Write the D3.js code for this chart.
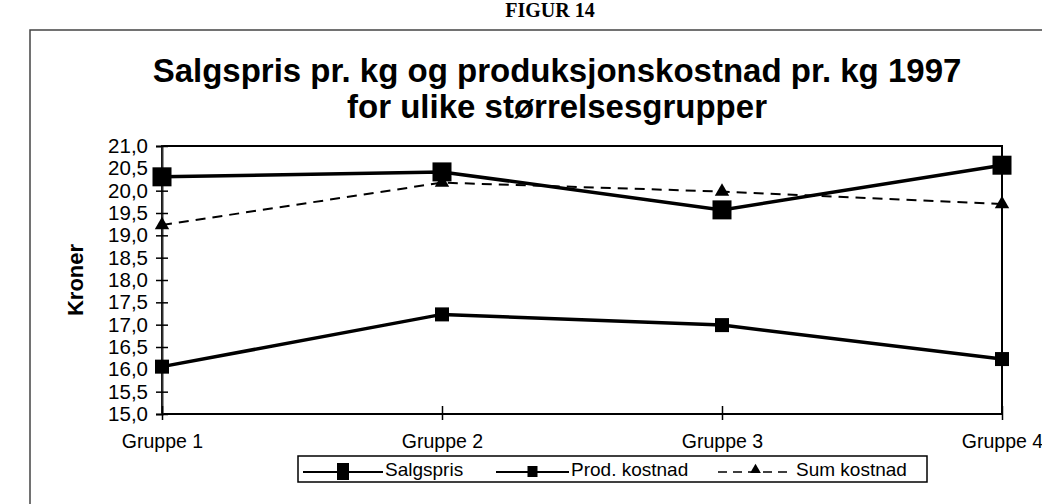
<!DOCTYPE html>
<html>
<head>
<meta charset="utf-8">
<script src="https://cdn.jsdelivr.net/npm/d3@7"></script>
<style>
  body { margin: 0; background: #fff; }
  svg { display: block; font-family: "Liberation Sans", Arial, sans-serif; }
</style>
</head>
<body>
<div id="chart"></div>
<script>
var groups = ["Gruppe 1", "Gruppe 2", "Gruppe 3", "Gruppe 4"];
var salgspris = [20.31, 20.42, 19.57, 20.57];
var prodKostnad = [16.06, 17.23, 16.99, 16.23];
var sumKostnad = [19.23, 20.18, 19.98, 19.70];
var yTicks = [15, 15.5, 16, 16.5, 17, 17.5, 18, 18.5, 19, 19.5, 20, 20.5, 21];

var width = 1042, height = 504;
var svg = d3.select("#chart").append("svg")
    .attr("width", width)
    .attr("height", height);

// page heading at the top of the scan
svg.append("text")
    .attr("x", 550).attr("y", 17)
    .attr("text-anchor", "middle")
    .style("font-family", "'Liberation Serif', 'Times New Roman', serif")
    .style("font-weight", "bold")
    .style("font-size", "20px")
    .text("FIGUR 14");

// outer frame of the chart object
svg.append("path")
    .attr("d", "M30,520 V30 H1050")
    .attr("fill", "none")
    .attr("stroke", "#444")
    .attr("stroke-width", 1.5);

svg.append("text")
    .attr("x", 557).attr("y", 82)
    .attr("text-anchor", "middle")
    .style("font-weight", "bold")
    .style("font-size", "33px")
    .text("Salgspris pr. kg og produksjonskostnad pr. kg 1997");
svg.append("text")
    .attr("x", 557).attr("y", 118)
    .attr("text-anchor", "middle")
    .style("font-weight", "bold")
    .style("font-size", "33px")
    .text("for ulike størrelsesgrupper");

var x = d3.scalePoint().domain(groups).range([162, 1002]);
var y = d3.scaleLinear().domain([15, 21]).range([414, 146]);

// plot box
svg.append("rect")
    .attr("x", 162).attr("y", y(21))
    .attr("width", 1002 - 162).attr("height", y(15) - y(21))
    .attr("fill", "none")
    .attr("stroke", "#000")
    .attr("stroke-width", 2);

var yAxis = svg.append("g")
    .attr("transform", "translate(162,0)")
    .call(d3.axisLeft(y).tickValues(yTicks)
        .tickSize(6)
        .tickFormat(function(d) { return d3.format(".1f")(d).replace(".", ","); }));
yAxis.select(".domain").attr("stroke", "#333").attr("stroke-width", 2);
yAxis.selectAll(".tick line").attr("x2", 6).attr("x1", -6).attr("stroke-width", 1.5);
yAxis.selectAll(".tick text")
    .attr("x", -14)
    .style("font-size", "20.5px")
    .attr("fill", "#000");

var xAxis = svg.append("g")
    .attr("transform", "translate(0,414)")
    .call(d3.axisBottom(x).tickSize(6));
xAxis.select(".domain").remove();
xAxis.selectAll(".tick line").attr("y1", -8).attr("y2", 6).attr("stroke-width", 1.5);
xAxis.selectAll(".tick text")
    .attr("y", 20)
    .style("font-size", "19.5px")
    .attr("fill", "#000");

svg.append("text")
    .attr("transform", "translate(83,280) rotate(-90)")
    .attr("text-anchor", "middle")
    .style("font-weight", "bold")
    .style("font-size", "22px")
    .text("Kroner");

var line = d3.line()
    .x(function(d, i) { return x(groups[i]); })
    .y(function(d) { return y(d); });

// Sum kostnad: dashed with triangles
svg.append("path")
    .datum(sumKostnad)
    .attr("d", line)
    .attr("fill", "none")
    .attr("stroke", "#000")
    .attr("stroke-width", 2)
    .attr("stroke-dasharray", "10,7");
svg.selectAll("path.tri")
    .data(sumKostnad)
    .enter().append("path")
    .attr("class", "tri")
    .attr("d", d3.symbol().type(d3.symbolTriangle).size(90))
    .attr("transform", function(d, i) { return "translate(" + x(groups[i]) + "," + y(d) + ")"; })
    .attr("fill", "#000");

// Prod. kostnad: small squares
svg.append("path")
    .datum(prodKostnad)
    .attr("d", line)
    .attr("fill", "none")
    .attr("stroke", "#000")
    .attr("stroke-width", 3.5);
svg.selectAll("rect.prod")
    .data(prodKostnad)
    .enter().append("rect")
    .attr("class", "prod")
    .attr("x", function(d, i) { return x(groups[i]) - 7; })
    .attr("y", function(d) { return y(d) - 7; })
    .attr("width", 14).attr("height", 14)
    .attr("fill", "#000");

// Salgspris: big squares
svg.append("path")
    .datum(salgspris)
    .attr("d", line)
    .attr("fill", "none")
    .attr("stroke", "#000")
    .attr("stroke-width", 3.5);
svg.selectAll("rect.salg")
    .data(salgspris)
    .enter().append("rect")
    .attr("class", "salg")
    .attr("x", function(d, i) { return x(groups[i]) - 9.5; })
    .attr("y", function(d) { return y(d) - 9.5; })
    .attr("width", 19).attr("height", 19)
    .attr("fill", "#000");

// legend
var legend = svg.append("g");
legend.append("rect")
    .attr("x", 298).attr("y", 456)
    .attr("width", 629).attr("height", 26)
    .attr("fill", "#fff")
    .attr("stroke", "#000")
    .attr("stroke-width", 1.5);

var legendItems = [
  { name: "Salgspris", x1: 303, x2: 383, mark: "big", tx: 385 },
  { name: "Prod. kostnad", x1: 496, x2: 569, mark: "small", tx: 571 },
  { name: "Sum kostnad", x1: 718, x2: 793, mark: "tri", tx: 796 }
];
var ly = 472;
legendItems.forEach(function(it) {
  var mx = (it.x1 + it.x2) / 2;
  legend.append("line")
      .attr("x1", it.x1).attr("x2", it.x2)
      .attr("y1", ly).attr("y2", ly)
      .attr("stroke", "#000")
      .attr("stroke-width", it.mark === "tri" ? 1.5 : 2)
      .attr("stroke-dasharray", it.mark === "tri" ? "9,6" : null);
  if (it.mark === "big") {
    legend.append("rect").attr("x", mx - 6).attr("y", ly - 9)
        .attr("width", 12).attr("height", 17).attr("fill", "#000");
  } else if (it.mark === "small") {
    legend.append("rect").attr("x", mx - 5).attr("y", ly - 6)
        .attr("width", 10).attr("height", 11).attr("fill", "#000");
  } else {
    legend.append("path")
        .attr("d", d3.symbol().type(d3.symbolTriangle).size(50))
        .attr("transform", "translate(" + mx + "," + (ly - 2) + ")")
        .attr("fill", "#000");
  }
  legend.append("text")
      .attr("x", it.tx).attr("y", ly + 4)
      .style("font-size", "19px")
      .text(it.name);
});
</script>
</body>
</html>
